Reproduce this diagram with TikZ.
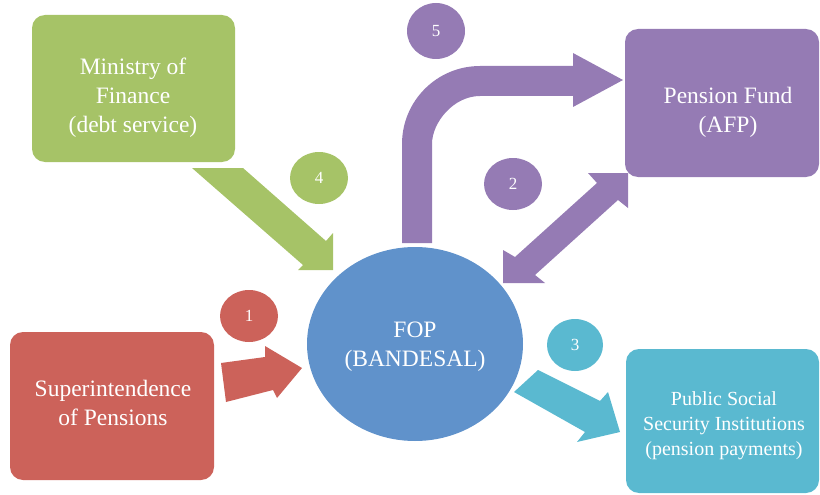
\documentclass[tikz,border=0pt]{standalone}
\usepackage{fontspec}
\setmainfont{Liberation Serif}
\usetikzlibrary{shapes.geometric}
\definecolor{cgreen}{RGB}{166,195,103}
\definecolor{cpurple}{RGB}{149,123,180}
\definecolor{cred}{RGB}{204,98,90}
\definecolor{ccyan}{RGB}{90,185,208}
\definecolor{cblue}{RGB}{96,146,203}
\begin{document}
\begin{tikzpicture}[x=1pt,y=-1pt,
  box/.style={rounded corners=13pt, inner sep=0pt, draw=none},
  lbl/.style={text=white, align=center, inner sep=0pt, font=\fontsize{23.5}{29}\selectfont},
  slbl/.style={text=white, align=center, inner sep=0pt, font=\fontsize{20}{25}\selectfont},
  numc/.style={ellipse, inner sep=0pt, draw=none, text=white, minimum width=58pt, minimum height=52pt, font=\fontsize{17}{20}\selectfont}]
\useasboundingbox (0,0) rectangle (820,495);

% block arrows
\fill[cgreen] (192,168) -- (243,168) -- (326,241) -- (333,233) -- (333,270) -- (298,270) -- (303,265) -- cycle;
\fill[cpurple] (432,243) -- (402,243) -- (402,144) .. controls (402,100.9) and (436.9,66) .. (480,66)
   -- (573,66) -- (573,53) -- (623,80) -- (573,107) -- (573,96) -- (480,96)
   .. controls (453.5,96) and (432,122.5) .. (432,144) -- cycle;
\fill[cpurple] (628,173) -- (628,208) -- (618,200) -- (535,275) -- (545,283) -- (503,283) -- (503,250) -- (515,257) -- (597,183) -- (588,173) -- cycle;
\fill[cred] (221,363) -- (265,357) -- (265,346) -- (302,368) -- (277,398) -- (273,390) -- (226,402) -- cycle;
\fill[ccyan] (538,370) -- (600,401) -- (608,392) -- (620,432) -- (577,442) -- (585,432) -- (514,392) -- cycle;

% boxes
\node[box, fill=cgreen, minimum width=203pt, minimum height=147pt] (mof) at (133.5,88.5) {};
\node[lbl] (moft) at (133,98) {Ministry of\\Finance\\(debt service)};

\node[box, fill=cpurple, minimum width=194pt, minimum height=148pt] (pf) at (722,103) {};
\node[lbl] (pft) at (728,112) {Pension Fund\\(AFP)};

\node[box, fill=cred, minimum width=204pt, minimum height=148pt] (sp) at (112,406) {};
\node[lbl] (spt) at (113,403) {Superintendence\\of Pensions};

\node[box, fill=ccyan, minimum width=193pt, minimum height=144pt] (pssi) at (722.5,421) {};
\node[slbl] (pssit) at (724,426) {Public Social\\Security Institutions\\(pension payments)};

\node[ellipse, fill=cblue, inner sep=0pt, minimum width=216pt, minimum height=194pt] (fop) at (415,344) {};
\node[lbl] (fopt) at (415,347) {FOP\\(BANDESAL)};

% numbers
\node[numc, fill=cpurple, minimum height=56pt] (n5) at (436,31) {5};
\node[numc, fill=cpurple] (n2) at (513,184) {2};
\node[numc, fill=cgreen] (n4) at (319,178) {4};
\node[numc, fill=cred] (n1) at (249,316) {1};
\node[numc, fill=ccyan, minimum width=56pt] (n3) at (575,345) {3};
\end{tikzpicture}
\end{document}
